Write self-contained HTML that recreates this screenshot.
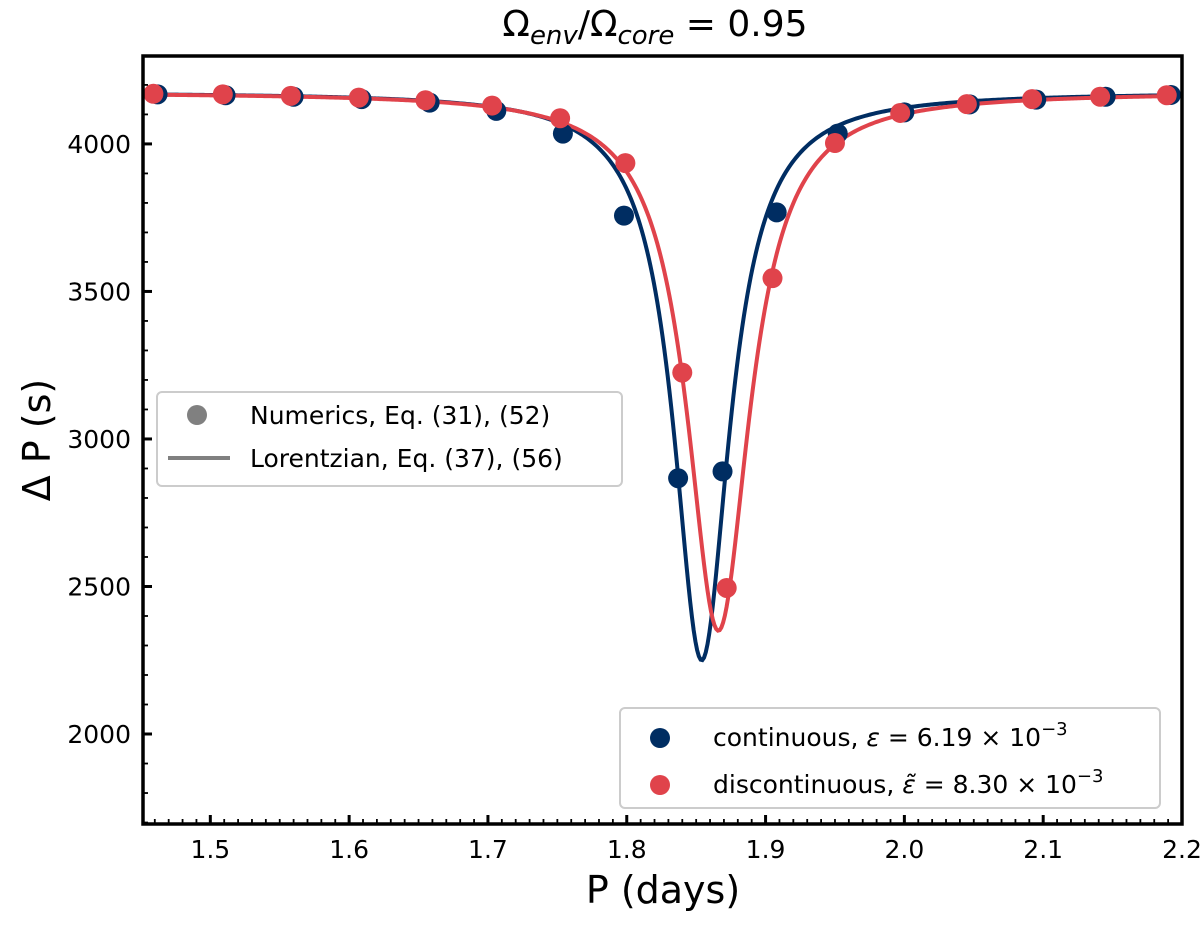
<!DOCTYPE html>
<html><head><meta charset="utf-8"><style>
body{margin:0;background:#fff;}
svg text{font-family:"DejaVu Sans","Liberation Sans",sans-serif;}
</style></head><body>
<svg id="chart" width="1200" height="921" viewBox="0 0 1200 921" xmlns="http://www.w3.org/2000/svg">
<text x="655" y="36" font-size="36" text-anchor="middle">Ω<tspan font-size="26" font-style="italic" dy="8">env</tspan><tspan dy="-8">/Ω</tspan><tspan font-size="26" font-style="italic" dy="8">core</tspan><tspan dy="-8"> = 0.95</tspan></text>
<g id="grid"></g>
<g id="curves"></g>
<g id="points"></g>
<g id="axes"></g>
<text transform="translate(50,440) rotate(-90)" font-size="38" text-anchor="middle">Δ P (s)</text>
<text x="663" y="903" font-size="38" text-anchor="middle">P (days)</text>
<g>
<rect x="157" y="392" width="465" height="94" rx="5" fill="#fff" stroke="#ccc" stroke-width="2"/>
<circle cx="197" cy="415" r="10" fill="#808080"/>
<text x="250" y="424" font-size="25">Numerics, Eq. (31), (52)</text>
<line x1="168" y1="458" x2="230" y2="458" stroke="#808080" stroke-width="4"/>
<text x="250" y="467" font-size="25">Lorentzian, Eq. (37), (56)</text>
</g>
<g>
<rect x="620" y="708" width="540" height="100" rx="5" fill="#fff" stroke="#ccc" stroke-width="2"/>
<circle cx="660" cy="738" r="10" fill="#002d62"/>
<text x="713" y="746" font-size="25">continuous, <tspan font-style="italic">ε</tspan> = 6.19 × 10<tspan font-size="18" dy="-11">−3</tspan></text>
<circle cx="660" cy="785" r="10" fill="#e0434b"/>
<text x="713" y="793" font-size="25">discontinuous, <tspan font-style="italic">ε̃</tspan> = 8.30 × 10<tspan font-size="18" dy="-11">−3</tspan></text>
</g>
</svg>
<script>
const xTicks=[1.5,1.6,1.7,1.8,1.9,2.0,2.1,2.2];
const xTickLabels=["1.5","1.6","1.7","1.8","1.9","2.0","2.1","2.2"];
const yTicks=[2000,2500,3000,3500,4000];
const yTickLabels=["2000","2500","3000","3500","4000"];
const blueX=[1.462,1.511,1.560,1.609,1.658,1.706,1.754,1.798,1.837,1.869,1.908,1.952,2.000,2.047,2.095,2.145,2.192];
const blueY=[4168,4165,4160,4152,4140,4112,4035,3757,2867,2890,3768,4035,4107,4134,4150,4160,4166];
const redX=[1.459,1.509,1.558,1.607,1.655,1.703,1.752,1.799,1.840,1.872,1.905,1.950,1.997,2.045,2.092,2.141,2.189];
const redY=[4170,4168,4163,4157,4148,4130,4087,3935,3225,2495,3545,4003,4105,4135,4152,4160,4165];
// Lorentzian params: [baseline, depth, center, halfwidth]
const blueLor=[4175,1925,1.854,0.0245];
const redLor=[4175,1825,1.866,0.0275];

const L=143,R=1182,T=56,B=824,XMIN=1.4515,XMAX=2.2,YMIN=1695,YMAX=4298;
const sx=v=>L+(v-XMIN)/(XMAX-XMIN)*(R-L);
const sy=v=>B-(v-YMIN)/(YMAX-YMIN)*(B-T);
const NS="http://www.w3.org/2000/svg";
function mk(tag,attrs,parent){const e=document.createElementNS(NS,tag);for(const k in attrs)e.setAttribute(k,attrs[k]);parent.appendChild(e);return e;}
const axes=document.getElementById('axes');
const curves=document.getElementById('curves');
const pts=document.getElementById('points');

function lor(p,x){const u=(x-p[2])/p[3];return p[0]-p[1]/(1+u*u);}
function drawCurve(p,color,name){
  let d="";const n=600;
  for(let i=0;i<=n;i++){const x=XMIN+(XMAX-XMIN)*i/n;d+=(i?"L":"M")+sx(x).toFixed(2)+","+sy(lor(p,x)).toFixed(2);}
  const e=mk('path',{d:d,fill:'none',stroke:color,'stroke-width':4},curves);
  
  
}
function drawPts(xs,ys,color,name){
  xs.forEach((x,i)=>{const c=mk('circle',{cx:sx(x),cy:sy(ys[i]),r:10,fill:color},pts);
    
    });
}
drawPts(blueX,blueY,'#002d62','continuous-point');
drawPts(redX,redY,'#e0434b','discontinuous-point');
drawCurve(blueLor,'#002d62','continuous-lorentzian');
drawCurve(redLor,'#e0434b','discontinuous-lorentzian');

const fr=mk('rect',{x:L,y:T,width:R-L,height:B-T,fill:'none',stroke:'#000','stroke-width':3.5},axes);


xTicks.forEach((v,i)=>{const x=sx(v);
  mk('line',{x1:x,y1:B,x2:x,y2:B-9,stroke:'#000','stroke-width':3},axes);
  const t=mk('text',{x:x,y:B+34,'font-size':25,'text-anchor':'middle'},axes);t.textContent=xTickLabels[i];
  
  });
for(let k=0;k<80;k++){const v=1.45+k*0.01;if(v<=XMIN||v>XMAX-1e-6)continue;if(Math.abs(Math.round(v*10)-v*10)<1e-6)continue;const x=sx(v);mk('line',{x1:x,y1:B,x2:x,y2:B-5,stroke:'#000','stroke-width':1.8},axes);}
yTicks.forEach((v,i)=>{const y=sy(v);
  mk('line',{x1:L,y1:y,x2:L+9,y2:y,stroke:'#000','stroke-width':3},axes);
  const t=mk('text',{x:L-12,y:y+9,'font-size':25,'text-anchor':'end'},axes);t.textContent=yTickLabels[i];
  
  });
for(let v=1700;v<4300;v+=100){if(v%500===0)continue;const y=sy(v);mk('line',{x1:L,y1:y,x2:L+5,y2:y,stroke:'#000','stroke-width':1.8},axes);}
</script>
</body></html>
